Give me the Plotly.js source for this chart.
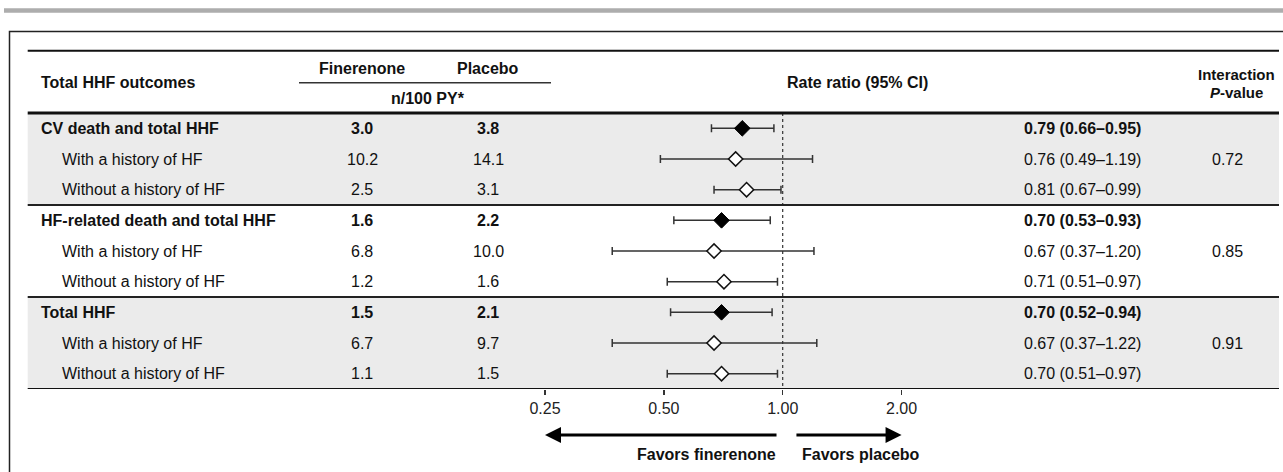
<!DOCTYPE html>
<html>
<head>
<meta charset="utf-8">
<script src="https://cdn.plot.ly/plotly-3.0.1.min.js"></script>
<style>
html,body{margin:0;padding:0;background:#fff;}
#chart{width:1283px;height:472px;}
</style>
</head>
<body>
<div id="chart"></div>
<script>
// ---------------- DATA ----------------
const rowLabels = ['CV death and total HHF','With a history of HF','Without a history of HF',
  'HF-related death and total HHF','With a history of HF','Without a history of HF',
  'Total HHF','With a history of HF','Without a history of HF'];
const isOverall = [true,false,false,true,false,false,true,false,false];
const finerenoneRate = ['3.0','10.2','2.5','1.6','6.8','1.2','1.5','6.7','1.1'];
const placeboRate = ['3.8','14.1','3.1','2.2','10.0','1.6','2.1','9.7','1.5'];
const rateRatio = [0.79,0.76,0.81,0.70,0.67,0.71,0.70,0.67,0.70];
const ciLow = [0.66,0.49,0.67,0.53,0.37,0.51,0.52,0.37,0.51];
const ciHigh = [0.95,1.19,0.99,0.93,1.20,0.97,0.94,1.22,0.97];
const pInteraction = ['','0.72','','','0.85','','','0.91',''];
const tickVals = [0.25,0.5,1,2];
const tickLabels = ['0.25','0.50','1.00','2.00'];
const refValue = 1;
const favorLeftText = 'Favors finerenone';
const favorRightText = 'Favors placebo';

// ---------------- LAYOUT HELPERS ----------------
const W = 1283, H = 472;
const X = px => px / W;
const Y = py => 1 - py / H;
const FONT = 'Arial, "Liberation Sans", Helvetica, sans-serif';
const TXT = '#111';
const rows = rowLabels.map((_, i) => i);

const pxPerDecade = 394.8, refPx = 782.7;
const r0 = -refPx / pxPerDecade;
const r1 = r0 + W / pxPerDecade;

// ---------------- TRACES ----------------
const ov = rows.filter(i => isOverall[i]);
const sub = rows.filter(i => !isOverall[i]);
function errs(idx){
  return {type:'data', symmetric:false,
    array: idx.map(i => ciHigh[i] - rateRatio[i]),
    arrayminus: idx.map(i => rateRatio[i] - ciLow[i]),
    color:'#333', thickness:1.5, width:4};
}
const traces = [
  {x:[refValue, refValue], y:[-0.5, 8.5], mode:'lines', hoverinfo:'skip',
   line:{color:'#333', width:1.2, dash:'3px,3px'}, showlegend:false},
  {x: ov.map(i => rateRatio[i]), y: ov, mode:'markers', error_x: errs(ov),
   marker:{symbol:'diamond', size:12, color:'#000', line:{color:'#000', width:1}}, showlegend:false},
  {x: sub.map(i => rateRatio[i]), y: sub, mode:'markers', error_x: errs(sub),
   marker:{symbol:'diamond', size:11, color:'#fff', line:{color:'#111', width:1.5}}, showlegend:false}
];

// ---------------- SHAPES ----------------
const shapes = [
  {type:'rect', xref:'paper', yref:'paper', x0:X(4), x1:X(1283), y0:Y(8.3), y1:Y(12.7), fillcolor:'#adadad', line:{width:0}},
  {type:'rect', xref:'paper', yref:'paper', x0:X(9.5), x1:X(1300), y0:Y(31.5), y1:Y(520), line:{color:'#222', width:1.5}},
  {type:'rect', xref:'paper', yref:'y', x0:X(27.7), x1:X(1279), y0:-0.5, y1:2.5, fillcolor:'#ebebeb', line:{width:0}, layer:'below'},
  {type:'rect', xref:'paper', yref:'y', x0:X(27.7), x1:X(1279), y0:5.5, y1:8.5, fillcolor:'#ebebeb', line:{width:0}, layer:'below'},
  {type:'line', xref:'paper', yref:'paper', x0:X(27.7), x1:X(1279), y0:Y(50.7), y1:Y(50.7), line:{color:'#111', width:2}},
  {type:'line', xref:'paper', yref:'paper', x0:X(299), x1:X(551), y0:Y(82.7), y1:Y(82.7), line:{color:'#333', width:1.5}},
  {type:'line', xref:'paper', yref:'y', x0:X(27.7), x1:X(1279), y0:-0.5, y1:-0.5, line:{color:'#111', width:3}},
  {type:'line', xref:'paper', yref:'y', x0:X(27.7), x1:X(1279), y0:2.5, y1:2.5, line:{color:'#222', width:2}},
  {type:'line', xref:'paper', yref:'y', x0:X(27.7), x1:X(1279), y0:5.5, y1:5.5, line:{color:'#222', width:2}},
  {type:'line', xref:'paper', yref:'y', x0:X(27.7), x1:X(1279), y0:8.5, y1:8.5, line:{color:'#111', width:2}}
];

// ---------------- ANNOTATIONS ----------------
const ann = [];
function txt(text, x, y, opts){
  ann.push(Object.assign({text, x, y, xref:'paper', yref:'paper', showarrow:false,
    xanchor:'center', yanchor:'middle', font:{family:FONT, size:16, color:TXT}}, opts||{}));
}
// header
txt('<b>Total HHF outcomes</b>', X(38.8), Y(82.5), {xanchor:'left'});
txt('<b>Finerenone</b>', X(362), Y(68));
txt('<b>Placebo</b>', X(488), Y(68));
txt('<b>n/100 PY*</b>', X(428), Y(98.5));
txt('<b>Rate ratio (95% CI)</b>', X(858), Y(82.5));
txt('<b>Interaction</b>', X(1236), Y(74), {font:{family:FONT, size:15, color:TXT}});
txt('<b><i>P</i>-value</b>', X(1236), Y(92.5), {font:{family:FONT, size:15, color:TXT}});

// rows
rows.forEach(i => {
  const b = s => isOverall[i] ? '<b>' + s + '</b>' : s;
  const rr = rateRatio[i].toFixed(2) + ' (' + ciLow[i].toFixed(2) + '\u2013' + ciHigh[i].toFixed(2) + ')';
  txt(b(rowLabels[i]), X(isOverall[i] ? 38.8 : 60.4), i, {xanchor:'left', yref:'y'});
  txt(b(finerenoneRate[i]), X(362), i, {yref:'y'});
  txt(b(placeboRate[i]), X(488), i, {yref:'y'});
  txt(b(rr), X(1022), i, {xanchor:'left', yref:'y'});
  if (pInteraction[i]) txt(pInteraction[i], X(1227), i, {yref:'y'});
});

// favors arrows
ann.push({x:Math.log10(tickVals[0]), y:Y(435), xref:'x', yref:'paper', ax:Math.log10(0.973), ay:0,
  axref:'x', ayref:'pixel', text:'', showarrow:true, arrowhead:2, arrowsize:1, arrowwidth:3.2, arrowcolor:'#000'});
ann.push({x:Math.log10(tickVals[3]), y:Y(435), xref:'x', yref:'paper', ax:Math.log10(1.074), ay:0,
  axref:'x', ayref:'pixel', text:'', showarrow:true, arrowhead:2, arrowsize:1, arrowwidth:3.2, arrowcolor:'#000'});
txt('<b>' + favorLeftText + '</b>', X(778), Y(454), {xanchor:'right'});
txt('<b>' + favorRightText + '</b>', X(800), Y(454), {xanchor:'left'});

const layout = {
  width:W, height:H, margin:{l:0, r:0, t:0, b:0, pad:0},
  paper_bgcolor:'#fff', plot_bgcolor:'rgba(0,0,0,0)',
  font:{family:FONT, size:16, color:TXT},
  showlegend:false,
  xaxis:{type:'log', range:[r0, r1], domain:[0,1], tickvals:tickVals, ticktext:tickLabels,
    ticks:'outside', ticklen:5, tickwidth:1.5, tickcolor:'#333', showgrid:false, zeroline:false,
    showline:false, tickfont:{family:FONT, size:16, color:'#222'}, fixedrange:true},
  yaxis:{range:[8.5, -4.185], domain:[83/472, 1], visible:false, fixedrange:true},
  shapes, annotations:ann
};
Plotly.newPlot('chart', traces, layout, {staticPlot:true, displayModeBar:false});
</script>
</body>
</html>
